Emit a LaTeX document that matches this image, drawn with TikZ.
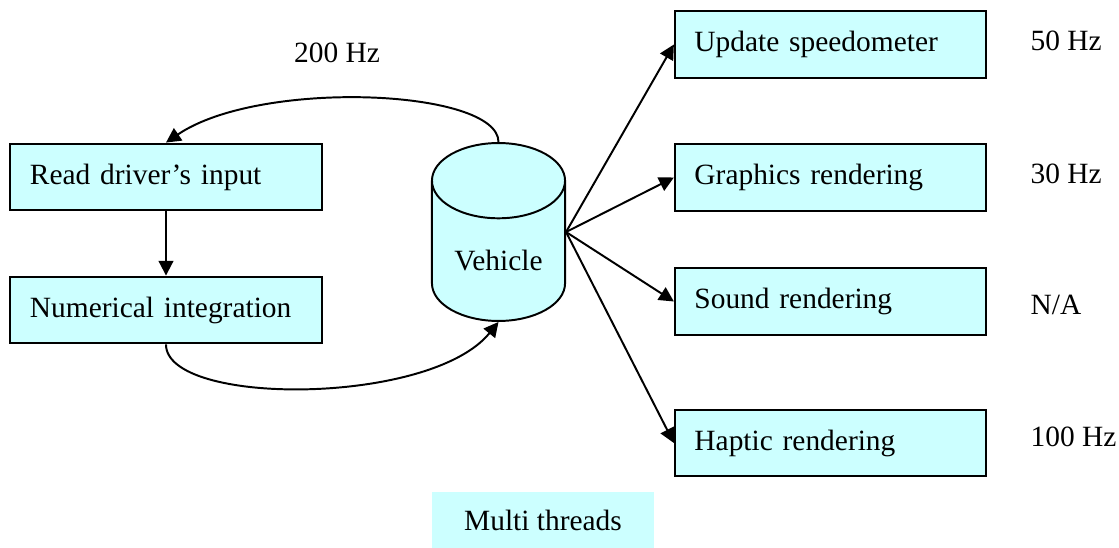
\documentclass[tikz,border=0pt]{standalone}
\usepackage{fontspec}
\setmainfont{Liberation Serif}
\usepackage{tikz}
\usetikzlibrary{arrows.meta,shapes.geometric}
\definecolor{boxcyan}{RGB}{204,255,255}

\begin{document}
\begin{tikzpicture}[x=0.408pt, y=-0.408pt, >={Triangle[length=6pt,width=6pt]},
  every node/.style={font=\fontsize{12pt}{14pt}\selectfont},
  task/.style={draw, line width=0.8pt, fill=boxcyan, minimum height=27.3pt,
    text width=111pt, inner xsep=8pt, align=left},
  store/.style={cylinder, shape border rotate=90, aspect=0.72, draw,
    line width=0.8pt, fill=boxcyan, minimum height=72.6pt, minimum width=54.3pt},
  rate/.style={anchor=west},
  link/.style={->, line width=0.8pt}]
\useasboundingbox (0,0) rectangle (1119,548);
\node[task] (read) at (166,177) {Read driver’s input};
\node[task] (numint) at (166,310) {Numerical integration};
\node[store, anchor=shape center] (veh) at (498.5,232) {Vehicle};
\coordinate (hub) at (veh.shape center -| veh.east);
\node[task] (speedo) at (830.5,44.5) {Update speedometer};
\node[task] (gfx) at (830.5,177.5) {Graphics rendering};
\node[task] (snd) at (830.5,301.5) {Sound rendering};
\node[task] (hap) at (830.5,443) {Haptic rendering};
\node (hz200) at (337,53) {200 Hz};
\node[rate] (r50) at (1022,41) {50 Hz};
\node[rate] (r30) at (1022,174) {30 Hz};
\node[rate] (rna) at (1022,305) {N/A};
\node[rate] (r100) at (1022,437) {100 Hz};
\node[fill=boxcyan, minimum width=90.6pt, minimum height=22.8pt] (mt) at (543,520) {Multi threads};
\draw[link] (read) -- (numint);
\draw[link] (veh.north) .. controls +(0,-53) and +(94,-64) .. (read.north);
\draw[link] (numint.south) .. controls +(0,62) and +(-68,84) .. (veh.south);
\draw[link] (hub) -- (speedo.west);
\draw[link] (hub) -- (gfx.west);
\draw[link] (hub) -- (snd.west);
\draw[link] (hub) -- (hap.west);
\end{tikzpicture}
\end{document}
